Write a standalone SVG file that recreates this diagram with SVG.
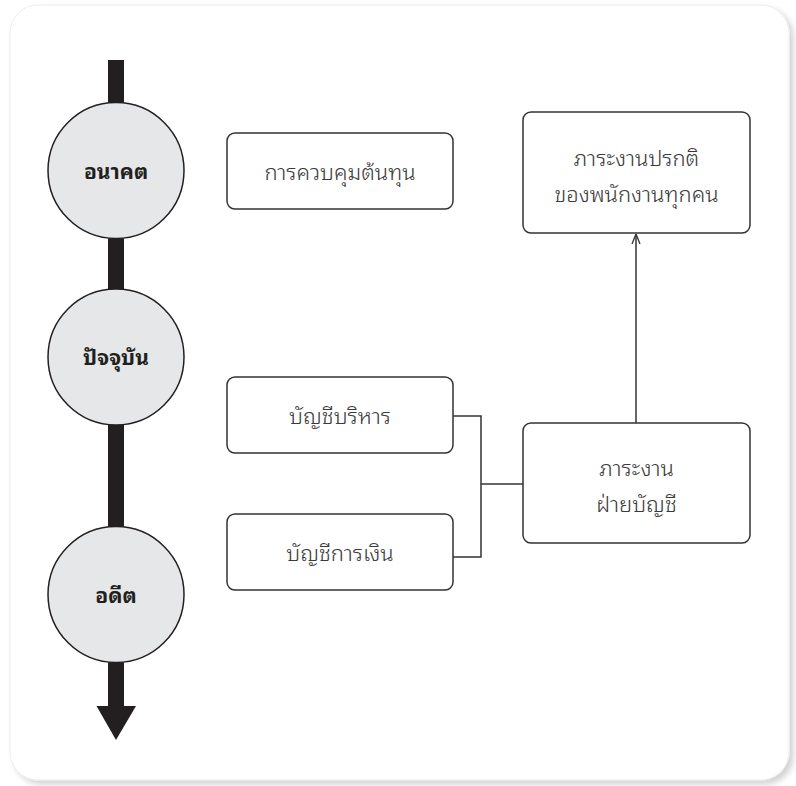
<svg xmlns="http://www.w3.org/2000/svg" width="796" height="786" viewBox="0 0 796 786">
<defs>
<style>
.box{fill:#ffffff;stroke:#333333;stroke-width:1.5}
.circ{fill:#e6e7e8;stroke:#231f20;stroke-width:1.5}
.lbl{font-family:"Noto Sans Thai Looped","Loma","Garuda","Noto Sans Thai","Noto Sans",sans-serif;font-size:22px;font-weight:300;fill:#3a3a3a;text-anchor:middle}
.clbl{font-family:"Noto Sans Thai Looped","Loma","Garuda","Noto Sans Thai","Noto Sans",sans-serif;font-size:21px;font-weight:bold;fill:#231f20;text-anchor:middle}
.conn{fill:none;stroke:#333333;stroke-width:1.5}
</style>
<marker id="open" viewBox="0 0 10 10" refX="10" refY="5" markerWidth="10" markerHeight="10" markerUnits="userSpaceOnUse" orient="auto">
<path d="M0,1 L10,5 L0,9" fill="none" stroke="#333333" stroke-width="1.3"/>
</marker>
<filter id="sh" x="-5%" y="-5%" width="110%" height="110%">
<feGaussianBlur in="SourceAlpha" stdDeviation="3"/>
<feOffset dx="4" dy="4"/>
<feComponentTransfer><feFuncA type="linear" slope="0.18"/></feComponentTransfer>
<feMerge><feMergeNode/><feMergeNode in="SourceGraphic"/></feMerge>
</filter>
</defs>
<rect width="796" height="786" fill="#ffffff"/>
<rect x="10" y="5" width="779" height="775" rx="28" fill="#ffffff" stroke="#ececec" stroke-width="1" filter="url(#sh)"/>
<g id="timeline">
<rect x="108" y="60" width="16" height="648" fill="#231f20"/>
<polygon points="96.5,706 136,706 116,740" fill="#231f20"/>
</g>
<g id="future">
<circle class="circ" cx="116" cy="170.5" r="68"/>
<text class="clbl" x="116" y="179">อนาคต</text>
</g>
<g id="present">
<circle class="circ" cx="116" cy="357" r="68"/>
<text class="clbl" x="116" y="365">ปัจจุบัน</text>
</g>
<g id="past">
<circle class="circ" cx="116" cy="594.5" r="68"/>
<text class="clbl" x="116" y="603">อดีต</text>
</g>
<g id="cost-control">
<rect class="box" x="227" y="133" width="226" height="76" rx="8"/>
<text class="lbl" x="340" y="180">การควบคุมต้นทุน</text>
</g>
<g id="routine-work">
<rect class="box" x="523" y="112" width="227" height="121" rx="8"/>
<text class="lbl" x="636.5" y="166">ภาระงานปรกติ</text>
<text class="lbl" x="636.5" y="202">ของพนักงานทุกคน</text>
</g>
<g id="mgmt-acc">
<rect class="box" x="227" y="377" width="226" height="76" rx="8"/>
<text class="lbl" x="340" y="424">บัญชีบริหาร</text>
</g>
<g id="fin-acc">
<rect class="box" x="227" y="514" width="226" height="76" rx="8"/>
<text class="lbl" x="340" y="561">บัญชีการเงิน</text>
</g>
<g id="acc-work">
<rect class="box" x="523" y="423" width="227" height="120" rx="8"/>
<text class="lbl" x="636.5" y="476">ภาระงาน</text>
<text class="lbl" x="636.5" y="512">ฝ่ายบัญชี</text>
</g>
<g id="connectors">
<polyline class="conn" points="453,416 481,416 481,557 453,557"/>
<line class="conn" x1="481" y1="484" x2="523" y2="484"/>
<line class="conn" x1="636" y1="423" x2="636" y2="234" marker-end="url(#open)"/>
</g>
</svg>
